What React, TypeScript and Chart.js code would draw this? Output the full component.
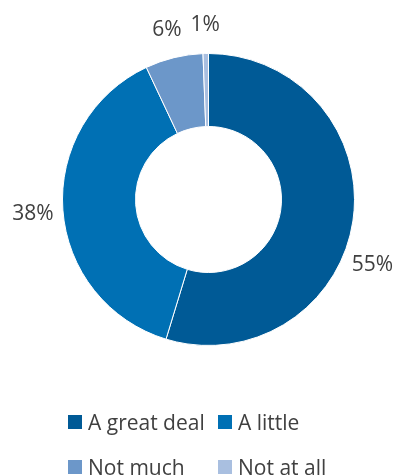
import React, { useEffect, useRef } from "react";
import { Chart, registerables } from "chart.js";

Chart.register(...registerables);

const categories = ["A great deal", "A little", "Not much", "Not at all"];
const values = [54.7, 38.3, 6.4, 0.6];
const valueLabels = ["55%", "38%", "6%", "1%"];
const colors = ["#005A96", "#0070B4", "#6C97C9", "#A9BFE0"];

const FONT = "'Open Sans', Lato, sans-serif";
const TEXT_COLOR = "#404040";
const CAP_HALF = 7.5;

const labelPlugin = {
  id: "outsideLabels",
  afterDraw(chart: any) {
    const ctx = chart.ctx;
    const meta = chart.getDatasetMeta(0);
    const W = chart.width;
    ctx.save();
    ctx.font = `21px ${FONT}`;
    ctx.fillStyle = TEXT_COLOR;
    ctx.textAlign = "center";
    ctx.textBaseline = "alphabetic";
    meta.data.forEach((arc: any, i: number) => {
      const { x, y, startAngle, endAngle, outerRadius } = arc.getProps(
        ["x", "y", "startAngle", "endAngle", "outerRadius"],
        true
      );
      const r = outerRadius + 30;
      let a = (startAngle + endAngle) / 2;
      const text = valueLabels[i];
      const w = ctx.measureText(text).width;
      let lx = x + r * Math.cos(a);
      let ly = y + r * Math.sin(a);
      const maxX = W - 3 - w / 2;
      const minX = 3 + w / 2;
      if (lx > maxX) {
        const c = Math.acos((maxX - x) / r);
        a = Math.sin(a) >= 0 ? c : -c;
        lx = x + r * Math.cos(a);
        ly = y + r * Math.sin(a);
      } else if (lx < minX) {
        const c = Math.acos((minX - x) / r);
        a = Math.sin(a) >= 0 ? c : -c;
        lx = x + r * Math.cos(a);
        ly = y + r * Math.sin(a);
      }
      ctx.fillText(text, lx, ly + CAP_HALF);
    });
    ctx.restore();
  },
};

const legendPlugin = {
  id: "gridLegend",
  afterDraw(chart: any) {
    const ctx = chart.ctx;
    const colX = [68, 218];
    const rowY = [422, 467];
    const box = 14;
    ctx.save();
    ctx.font = `21px ${FONT}`;
    ctx.fillStyle = TEXT_COLOR;
    ctx.textAlign = "left";
    ctx.textBaseline = "alphabetic";
    categories.forEach((c, i) => {
      const cx = colX[i % 2];
      const cy = rowY[Math.floor(i / 2)];
      ctx.fillStyle = colors[i];
      ctx.fillRect(cx, cy - box / 2, box, box);
      ctx.fillStyle = TEXT_COLOR;
      ctx.fillText(c, cx + 20, cy + CAP_HALF);
    });
    ctx.restore();
  },
};

export default function App() {
  const ref = useRef<HTMLCanvasElement>(null);
  useEffect(() => {
    if (!ref.current) return;
    const chart = new Chart(ref.current, {
      type: "doughnut",
      data: {
        labels: categories,
        datasets: [
          {
            data: values,
            backgroundColor: colors,
            borderColor: "#ffffff",
            borderWidth: 1,
          },
        ],
      },
      options: {
        responsive: false,
        animation: false,
        cutout: "50%",
        layout: { padding: { left: 62, right: 41, top: 53, bottom: 130 } },
        plugins: {
          legend: { display: false },
          tooltip: { enabled: false },
        },
      },
      plugins: [labelPlugin, legendPlugin],
    });
    return () => chart.destroy();
  }, []);
  return (
    <div style={{ position: "absolute", left: 0, top: 0, width: 396, height: 476, background: "#fff" }}>
      <canvas ref={ref} width={396} height={476} />
    </div>
  );
}
